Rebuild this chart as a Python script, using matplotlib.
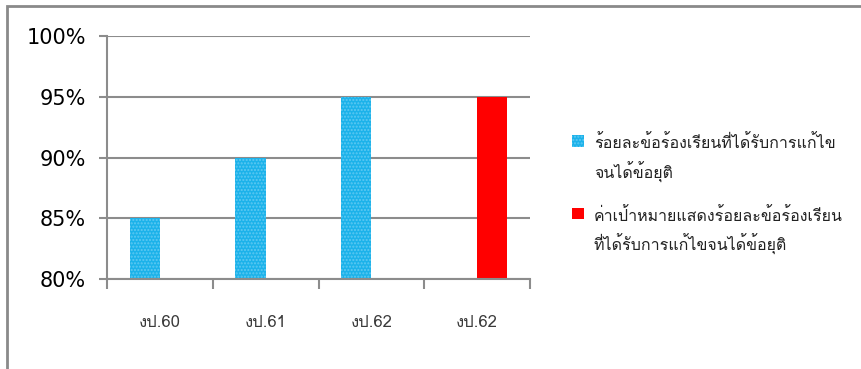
import matplotlib
matplotlib.use("Agg")
import numpy as np
import matplotlib.pyplot as plt
from matplotlib import font_manager
from matplotlib.patches import Rectangle
from fontTools.ttLib import TTFont

# categories and the two series
YEARS = ['งป.60', 'งป.61', 'งป.62', 'งป.62']
RESOLVED = [85, 90, 95, 0]        # % of complaints resolved
TARGET = [0, 0, 0, 95]            # target %
LABEL_RESOLVED = 'ร้อยละข้อร้องเรียนที่ได้รับการแก้ไข\nจนได้ข้อยุติ'
LABEL_TARGET = 'ค่าเป้าหมายแสดงร้อยละข้อร้องเรียน\nที่ได้รับการแก้ไขจนได้ข้อยุติ'
YTICKS = [80, 85, 90, 95, 100]


def thai_family():
    # first installed font that has Thai glyphs
    for f in font_manager.fontManager.ttflist:
        try:
            cmap = TTFont(f.fname, fontNumber=0, lazy=True).getBestCmap()
        except Exception:
            continue
        if cmap and 0x0E23 in cmap and 0x0E49 in cmap:
            return f.name
    return 'DejaVu Sans'


THAI = thai_family()
FAMILY = [THAI, 'DejaVu Sans']

fig = plt.figure(figsize=(8.62, 3.69), dpi=100)
ax = fig.add_axes([107/862, 1 - 279/369, (530 - 107)/862, (279 - 36)/369])

x = np.arange(len(YEARS))
w = 0.285
grey = '#8c8c8c'

ax.bar(x - w/2, RESOLVED, w, color='#1cb2ea', hatch='.....',
       edgecolor='#5ec9f3', linewidth=0, label=LABEL_RESOLVED, zorder=2)
ax.bar(x + w/2, TARGET, w, color='#ff0000', linewidth=0,
       label=LABEL_TARGET, zorder=2)

ax.set_ylim(80, 100)
ax.set_xlim(-0.5, len(YEARS) - 0.5)
ax.set_yticks(YTICKS)
ax.set_yticklabels([f'{v}%' for v in YTICKS], fontsize=15, color='black')
ax.set_xticks(x)
ax.set_xticklabels(YEARS, family=FAMILY, fontsize=12, color='#3a3a3a')
ax.tick_params(axis='x', length=0, pad=26)
ax.tick_params(axis='y', length=6, width=1.5, color=grey, pad=9)

# category boundary ticks under the x axis
ax.set_xticks(np.arange(len(YEARS) + 1) - 0.5, minor=True)
ax.tick_params(axis='x', which='minor', length=7, width=1.5, color=grey)

ax.grid(axis='y', color=grey, linewidth=1.5, zorder=1)
ax.set_axisbelow(True)
for side in ['top', 'right']:
    ax.spines[side].set_visible(False)
for side in ['left', 'bottom']:
    ax.spines[side].set_color(grey)
    ax.spines[side].set_linewidth(1.5)

leg = ax.legend(loc='upper left', bbox_to_anchor=(566/862, 1 - 129/369),
                bbox_transform=fig.transFigure, frameon=False,
                prop={'family': FAMILY, 'size': 11.5}, handlelength=0.75,
                handleheight=0.75, handletextpad=0.6, labelspacing=1.55,
                borderaxespad=0)
for t in leg.get_texts():
    t.set_linespacing(1.55)
    t.set_color('#222222')
for col in leg._legend_handle_box.get_children():
    for row in col.get_children():
        row.align = 'top'

# outer chart frame
fig.patches.append(Rectangle((7/862, -0.05), 1.2, 1 - 6/369 + 0.05,
                             transform=fig.transFigure, fill=False,
                             edgecolor='#8a8a8a', linewidth=2))

fig.savefig('out.png', dpi=100)
